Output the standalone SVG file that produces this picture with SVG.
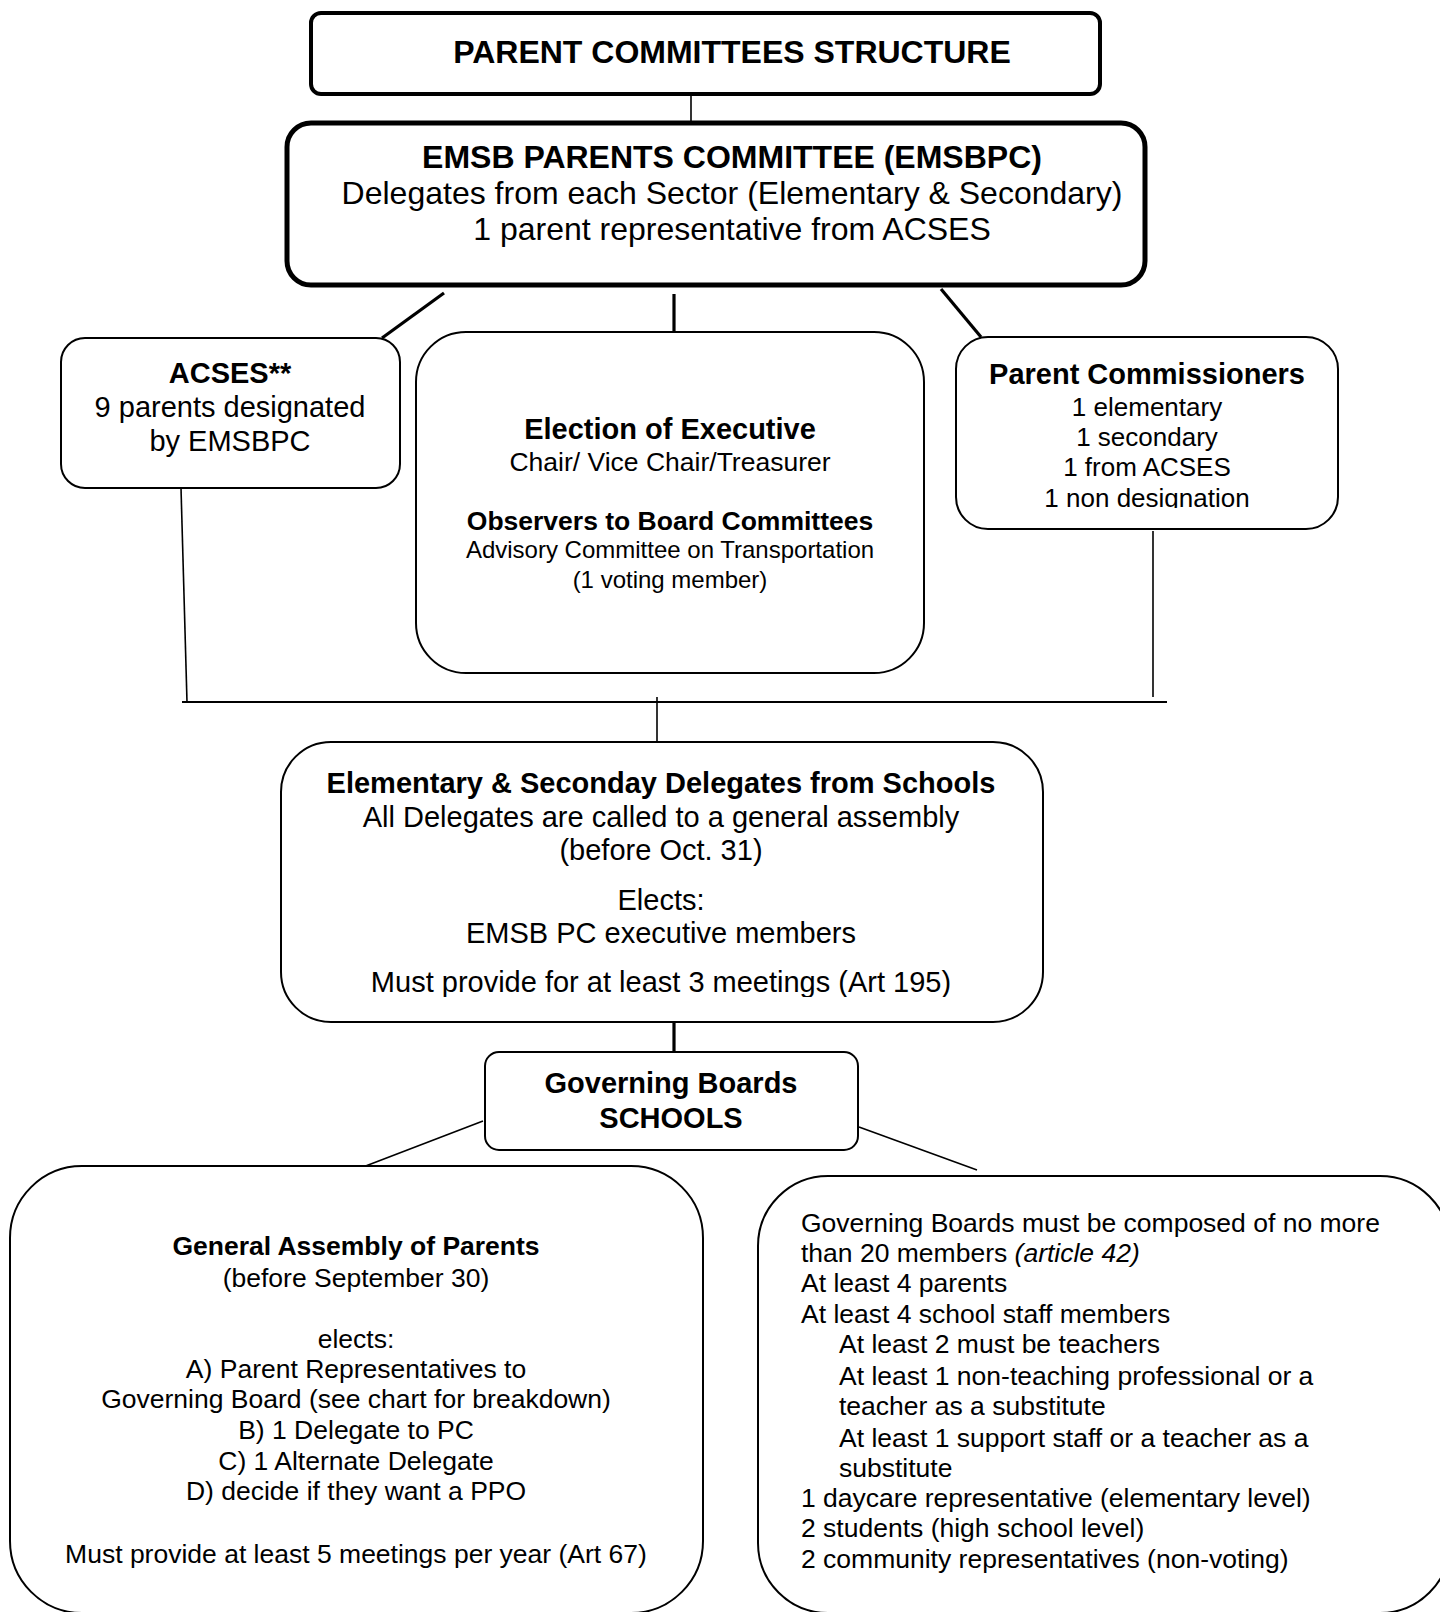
<svg xmlns="http://www.w3.org/2000/svg" width="1440" height="1612" viewBox="0 0 1440 1612">
<style>
  text { font-family: "Liberation Sans", Arial, sans-serif; fill: #000; }
  .c { text-anchor: middle; }
  .b { font-weight: bold; }
  .box { fill: #fff; stroke: #000; stroke-width: 2; }
  .thin { stroke: #000; stroke-width: 1.6; fill: none; }
  .thick { stroke: #000; stroke-width: 3.2; fill: none; }
</style>
<defs>
  <clipPath id="clipPC"><rect x="950" y="330" width="400" height="178"/></clipPath>
  <clipPath id="clipEL"><rect x="270" y="735" width="780" height="262"/></clipPath>
</defs>
<rect width="1440" height="1612" fill="#fff"/>

<g id="connectors">
  <line class="thin" x1="691" y1="95" x2="691" y2="122"/>
  <line class="thick" x1="444" y1="293" x2="382" y2="338"/>
  <line class="thick" x1="674" y1="294" x2="674" y2="332"/>
  <line class="thick" x1="941" y1="289" x2="981" y2="337"/>
  <line class="thin" x1="181" y1="488" x2="187" y2="702"/>
  <line class="thin" x1="1153" y1="531" x2="1153" y2="697"/>
  <line stroke="#000" stroke-width="2.2" x1="182" y1="702" x2="1167" y2="702"/>
  <line class="thin" x1="657" y1="697" x2="657" y2="743"/>
  <line class="thick" x1="674" y1="1020" x2="674" y2="1052"/>
  <line class="thin" x1="483" y1="1121" x2="363" y2="1167"/>
  <line class="thin" x1="859" y1="1127" x2="977" y2="1170"/>
</g>

<g id="title">
  <rect x="311" y="13" width="789" height="81" rx="10" fill="#fff" stroke="#000" stroke-width="4"/>
  <text class="c b" x="732" y="63" font-size="32">PARENT COMMITTEES STRUCTURE</text>
</g>

<g id="emsbpc">
  <rect x="287" y="123" width="858" height="162" rx="24" fill="#fff" stroke="#000" stroke-width="5"/>
  <text class="c b" x="732" y="168" font-size="32">EMSB PARENTS COMMITTEE (EMSBPC)</text>
  <text class="c" x="732" y="204" font-size="32">Delegates from each Sector (Elementary &amp; Secondary)</text>
  <text class="c" x="732" y="240" font-size="32">1 parent representative from ACSES</text>
</g>

<g id="acses">
  <rect class="box" x="61" y="338" width="339" height="150" rx="24"/>
  <text class="c b" x="230" y="383" font-size="29">ACSES**</text>
  <text class="c" x="230" y="417" font-size="29">9 parents designated</text>
  <text class="c" x="230" y="451" font-size="29">by EMSBPC</text>
</g>

<g id="election">
  <rect class="box" x="416" y="332" width="508" height="341" rx="50"/>
  <text class="c b" x="670" y="439" font-size="29">Election of Executive</text>
  <text class="c" x="670" y="471" font-size="26.5">Chair/ Vice Chair/Treasurer</text>
  <text class="c b" x="670" y="530" font-size="26.5">Observers to Board Committees</text>
  <text class="c" x="670" y="558" font-size="24">Advisory Committee on Transportation</text>
  <text class="c" x="670" y="588" font-size="24">(1 voting member)</text>
</g>

<g id="commissioners">
  <rect class="box" x="956" y="337" width="382" height="192" rx="32"/>
  <text class="c b" x="1147" y="384" font-size="29">Parent Commissioners</text>
  <text class="c" x="1147" y="416" font-size="26">1 elementary</text>
  <text class="c" x="1147" y="446" font-size="26">1 secondary</text>
  <text class="c" x="1147" y="476" font-size="26">1 from ACSES</text>
  <text class="c" x="1147" y="507" font-size="26" clip-path="url(#clipPC)">1 non designation</text>
</g>

<g id="delegates">
  <rect class="box" x="281" y="742" width="762" height="280" rx="50"/>
  <text class="c b" x="661" y="793" font-size="29">Elementary &amp; Seconday Delegates from Schools</text>
  <text class="c" x="661" y="827" font-size="29">All Delegates are called to a general assembly</text>
  <text class="c" x="661" y="860" font-size="29">(before Oct. 31)</text>
  <text class="c" x="661" y="910" font-size="29">Elects:</text>
  <text class="c" x="661" y="943" font-size="29">EMSB PC executive members</text>
  <text class="c" x="661" y="992" font-size="29" clip-path="url(#clipEL)">Must provide for at least 3 meetings (Art 195)</text>
</g>

<g id="governing">
  <rect class="box" x="485" y="1052" width="373" height="98" rx="14"/>
  <text class="c b" x="671" y="1093" font-size="29">Governing Boards</text>
  <text class="c b" x="671" y="1128" font-size="29">SCHOOLS</text>
</g>

<g id="assembly">
  <rect class="box" x="10" y="1166" width="693" height="447" rx="72"/>
  <text class="c b" x="356" y="1255" font-size="26.5">General Assembly of Parents</text>
  <text class="c" x="356" y="1287" font-size="26.5">(before September 30)</text>
  <text class="c" x="356" y="1348" font-size="26.5">elects:</text>
  <text class="c" x="356" y="1378" font-size="26.5">A) Parent Representatives to</text>
  <text class="c" x="356" y="1408" font-size="26.5">Governing Board (see chart for breakdown)</text>
  <text class="c" x="356" y="1439" font-size="26.5">B) 1 Delegate to PC</text>
  <text class="c" x="356" y="1470" font-size="26.5">C) 1 Alternate Delegate</text>
  <text class="c" x="356" y="1500" font-size="26.5">D) decide if they want a PPO</text>
  <text class="c" x="356" y="1563" font-size="26.5">Must provide at least 5 meetings per year (Art 67)</text>
</g>

<g id="composition">
  <rect class="box" x="758" y="1176" width="692" height="437" rx="70"/>
  <g font-size="26.5">
    <text x="801" y="1232">Governing Boards must be composed of no more</text>
    <text x="801" y="1262">than 20 members <tspan font-style="italic">(article 42)</tspan></text>
    <text x="801" y="1292">At least 4 parents</text>
    <text x="801" y="1323">At least 4 school staff members</text>
    <text x="839" y="1353">At least 2 must be teachers</text>
    <text x="839" y="1385">At least 1 non-teaching professional or a</text>
    <text x="839" y="1415">teacher as a substitute</text>
    <text x="839" y="1447">At least 1 support staff or a teacher as a</text>
    <text x="839" y="1477">substitute</text>
    <text x="801" y="1507">1 daycare representative (elementary level)</text>
    <text x="801" y="1537">2 students (high school level)</text>
    <text x="801" y="1568">2 community representatives (non-voting)</text>
  </g>
</g>
</svg>
